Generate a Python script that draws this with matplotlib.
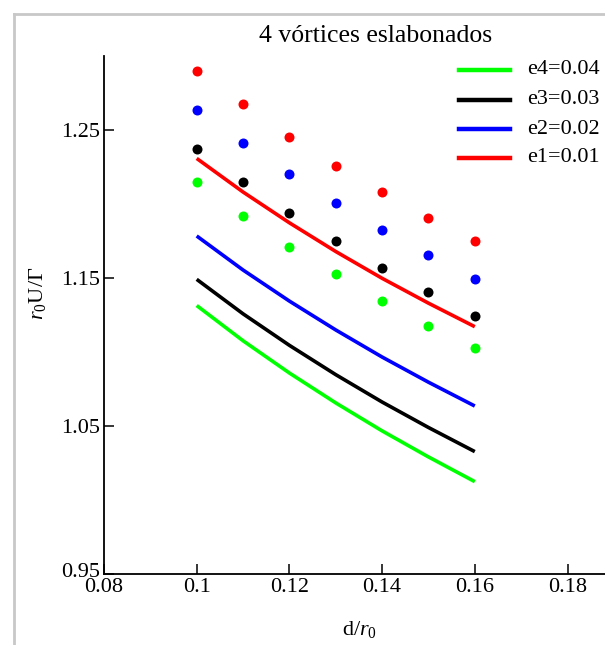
import matplotlib
matplotlib.use("Agg")
import matplotlib.pyplot as plt
import matplotlib.transforms as mtransforms
from matplotlib.lines import Line2D

plt.rcParams['font.family'] = ['Liberation Serif', 'DejaVu Serif']
plt.rcParams['mathtext.fontset'] = 'custom'
plt.rcParams['mathtext.rm'] = 'Liberation Serif'
plt.rcParams['mathtext.it'] = 'Liberation Serif:italic'

# ---- data ----
d_values = [0.10, 0.11, 0.12, 0.13, 0.14, 0.15, 0.16]

# points (dots)
pts_e1 = [1.2901, 1.2674, 1.2455, 1.2260, 1.2079, 1.1907, 1.1750]
pts_e2 = [1.2635, 1.2410, 1.2203, 1.2009, 1.1824, 1.1653, 1.1495]
pts_e3 = [1.2374, 1.2147, 1.1941, 1.1747, 1.1566, 1.1403, 1.1245]
pts_e4 = [1.2147, 1.1919, 1.1711, 1.1528, 1.1345, 1.1176, 1.1025]

# curves
line_e1 = [1.2308, 1.2081, 1.1873, 1.1679, 1.1498, 1.1330, 1.1171]
line_e2 = [1.1784, 1.1554, 1.1344, 1.1149, 1.0966, 1.0796, 1.0635]
line_e3 = [1.1491, 1.1258, 1.1045, 1.0847, 1.0662, 1.0490, 1.0327]
line_e4 = [1.1314, 1.1076, 1.0858, 1.0656, 1.0467, 1.0291, 1.0124]

legend_labels = ["e4=0.04", "e3=0.03", "e2=0.02", "e1=0.01"]
x_ticks = [0.08, 0.10, 0.12, 0.14, 0.16, 0.18]
x_tick_labels = ["0.08", "0.1", "0.12", "0.14", "0.16", "0.18"]
y_ticks = [0.95, 1.05, 1.15, 1.25]
y_tick_labels = ["0.95", "1.05", "1.15", "1.25"]

colors = {"e1": "#ff0000", "e2": "#0000ff", "e3": "#000000", "e4": "#00ff00"}

W, H = 605, 645
fig = plt.figure(figsize=(W / 100, H / 100), dpi=100)

# axes geometry in pixels
ax_left, ax_bottom_px, ax_top_px = 104, 574, 56
xmin, xmax = 0.08, 0.197
px_per_unit = 92.7 / 0.02
ax_w = (xmax - xmin) * px_per_unit
ax = fig.add_axes([ax_left / W, 1 - ax_bottom_px / H, ax_w / W, (ax_bottom_px - ax_top_px) / H])
ax.set_xlim(xmin, xmax)
ax.set_ylim(0.95, 1.30)

for key, ln in [("e4", line_e4), ("e3", line_e3), ("e2", line_e2), ("e1", line_e1)]:
    ax.plot(d_values, ln, color=colors[key], lw=2.6, solid_capstyle='butt',
            solid_joinstyle='round', clip_on=False)
for key, p in [("e1", pts_e1), ("e2", pts_e2), ("e3", pts_e3), ("e4", pts_e4)]:
    ax.plot(d_values, p, 'o', color=colors[key], ms=7.2, mec='none')

for s in ["top", "right"]:
    ax.spines[s].set_visible(False)
for s in ["left", "bottom"]:
    ax.spines[s].set_linewidth(1.3)
ax.set_xticks(x_ticks)
ax.set_xticklabels(x_tick_labels)
ax.set_yticks(y_ticks)
ax.set_yticklabels(y_tick_labels)
ax.tick_params(direction='in', length=7, width=1.1, labelsize=16, pad=3)
ax.minorticks_off()

# lift the bottom y label slightly so it sits above the 0.08 label (as in the reference)
lbl = ax.get_yticklabels()[0]
lbl.set_transform(lbl.get_transform() + mtransforms.ScaledTranslation(0, 4 / 100, fig.dpi_scale_trans))

ax.set_title("4 vórtices eslabonados", fontsize=18.5, pad=10)

fig.text(360 / W, 1 - 630 / H, r"d/$r_0$", fontsize=16, ha='center', va='center')
fig.text(37 / W, 1 - 293 / H, r"$r_0$U/Γ", fontsize=16, ha='center', va='center', rotation=90)

# legend
leg_colors = [colors["e4"], colors["e3"], colors["e2"], colors["e1"]]
rows = [70, 100, 129, 158]
for lab, c, yy in zip(legend_labels, leg_colors, rows):
    fig.add_artist(Line2D([459 / W, 510 / W], [1 - yy / H, 1 - yy / H], color=c, lw=3.2,
                          transform=fig.transFigure))
    fig.text(527 / W, 1 - yy / H, lab, fontsize=16, ha='left', va='center')

# light grey frame
fig.add_artist(Line2D([14 / W, 14 / W], [0, 1 - 14 / H], color='#c8c8c8', lw=2, transform=fig.transFigure))
fig.add_artist(Line2D([14 / W, 1], [1 - 14 / H, 1 - 14 / H], color='#c8c8c8', lw=2, transform=fig.transFigure))

fig.savefig("out.png", dpi=100)
